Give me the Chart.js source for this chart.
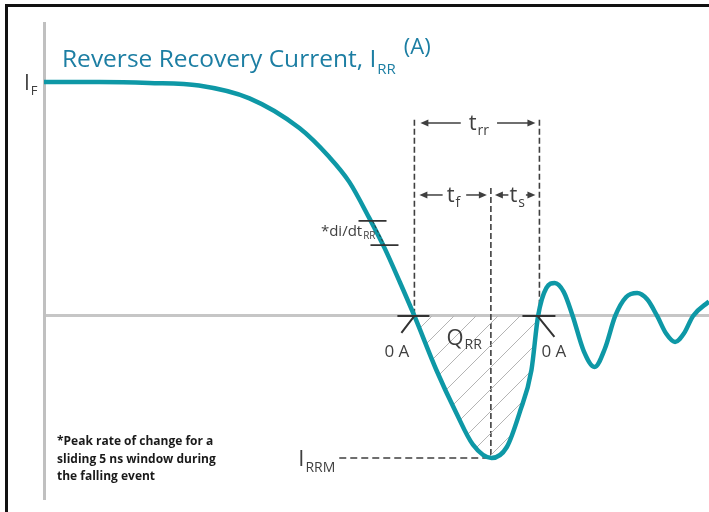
<!DOCTYPE html>
<html>
<head>
<meta charset="utf-8">
<script src="https://cdn.jsdelivr.net/npm/chart.js@4.4.1/dist/chart.umd.min.js"></script>
<style>
  html, body { margin: 0; padding: 0; background: #fff; }
  #wrap { position: relative; width: 709px; height: 512px; overflow: hidden; }
  #frame { position: absolute; left: 5px; top: 4px; right: 0; bottom: 0;
           border-top: 3px solid #111; border-left: 3px solid #111; }
  #chart { position: absolute; left: 0; top: 0; }
</style>
</head>
<body>
<div id="wrap">
  <div id="frame"></div>
  <canvas id="chart" width="709" height="512"></canvas>
</div>
<script>
// recovery waveform: time (ns) vs diode current (A)
const timeNs = [0, 8.3, 15.8, 23.3, 30.9, 38.4, 42.9, 45.9, 48.9, 51.2, 53.5, 55.7,
  59.0, 62.0, 64.5, 67.3, 69.6, 71.5, 73.3, 74.3,
  75.55, 76.8, 78.15, 79.5, 81.15, 82.8, 84.35, 85.9, 87.55, 89.2, 90.7, 92.2,
  93.55, 94.9, 96.25, 97.6, 100];
const currentA = [10, 10, 9.96, 9.85, 9.3, 8.03, 6.79, 5.73, 4.19, 2.91, 1.45, 0,
  -2.31, -4.15, -5.5, -6.07, -5.60, -4.15, -2.31, 0,
  1.2, 1.41, 1.03, 0, -1.49, -2.18, -1.39, 0, 0.81, 0.98, 0.71, 0,
  -0.75, -1.11, -0.74, 0, 0.62];

// event markers (same units as the data)
const trrStart = 55.7;
const trrEnd = 74.5;
const qrrEnd = 74.3;
const irrmTime = 67.2;
const irrmValue = -6.07;
const didtLevels = [4.06, 3.03];
const footnoteLines = ['*Peak rate of change for a', 'sliding 5 ns window during', 'the falling event'];

const CURVE = '#0e98a6';
const TITLE = '#1c7ea3';
const INK = '#3f3f3f';
const FONT = '"Open Sans", Lato, sans-serif';

// diagonal hatch used for the Q_RR area
function hatchPattern() {
  const c = document.createElement('canvas');
  c.width = 22; c.height = 22;
  const g = c.getContext('2d');
  g.strokeStyle = '#b4b4b4';
  g.lineWidth = 1;
  g.beginPath();
  for (let k = -1; k <= 1; k++) {
    g.moveTo(k * 22, 22);
    g.lineTo(k * 22 + 22, 0);
  }
  g.stroke();
  return g.createPattern(c, 'repeat');
}

const points = timeNs.map((t, i) => ({ x: t, y: currentA[i] }));

function text(ctx, s, x, y, size, color, opts = {}) {
  ctx.font = (opts.bold ? 'bold ' : '') + size + 'px ' + FONT;
  ctx.fillStyle = color;
  ctx.textAlign = opts.align || 'left';
  ctx.textBaseline = 'alphabetic';
  ctx.fillText(s, x, y);
  return ctx.measureText(s).width;
}

// main letter + subscript, returns total width
function subText(ctx, main, sub, x, y, size, subSize, color, drop) {
  const w1 = text(ctx, main, x, y, size, color);
  const w2 = text(ctx, sub, x + w1 + 1, y + drop, subSize, color);
  return w1 + 1 + w2;
}

function subWidth(ctx, main, sub, size, subSize) {
  ctx.font = size + 'px ' + FONT;
  const w1 = ctx.measureText(main).width;
  ctx.font = subSize + 'px ' + FONT;
  return w1 + 1 + ctx.measureText(sub).width;
}

function arrow(ctx, x1, y, x2) {
  const d = Math.sign(x2 - x1);
  ctx.beginPath();
  ctx.moveTo(x1, y);
  ctx.lineTo(x2 - d * 4, y);
  ctx.stroke();
  ctx.beginPath();
  ctx.moveTo(x2, y);
  ctx.lineTo(x2 - d * 8, y - 3.5);
  ctx.lineTo(x2 - d * 8, y + 3.5);
  ctx.closePath();
  ctx.fill();
}

function dashed(ctx, x1, y1, x2, y2, dash) {
  ctx.save();
  ctx.setLineDash(dash);
  ctx.beginPath();
  ctx.moveTo(x1, y1);
  ctx.lineTo(x2, y2);
  ctx.stroke();
  ctx.restore();
}

// keep the hatched fill between the two zero crossings
const clipQrr = {
  id: 'clipQrr',
  beforeDatasetsDraw(chart) {
    const x = chart.scales.x;
    const a = chart.chartArea;
    const left = x.getPixelForValue(trrStart);
    chart.ctx.save();
    chart.ctx.beginPath();
    chart.ctx.rect(left, a.top, x.getPixelForValue(qrrEnd) - left, a.bottom - a.top);
    chart.ctx.clip();
  },
  afterDatasetDraw(chart, args) {
    if (args.index === 1) chart.ctx.restore();
  }
};

const annotations = {
  id: 'annotations',
  beforeDatasetsDraw(chart) {
    const ctx = chart.ctx;
    const px = v => chart.scales.x.getPixelForValue(v);
    const py = v => chart.scales.y.getPixelForValue(v);
    const x0 = px(trrStart), x1 = px(trrEnd), xm = px(irrmTime);
    const zero = py(0);

    ctx.save();
    ctx.strokeStyle = INK;
    ctx.fillStyle = INK;
    ctx.lineWidth = 1.6;
    // event boundaries
    dashed(ctx, x0, py(8.38), x0, zero, [6, 3]);
    dashed(ctx, x1, py(8.38), x1, zero, [6, 3]);
    dashed(ctx, xm, py(5.47), xm, py(irrmValue), [6, 3]);
    dashed(ctx, px(44.4), py(irrmValue), xm, py(irrmValue), [7, 4]);
    ctx.restore();
  },
  afterDatasetsDraw(chart) {
    const ctx = chart.ctx;
    const px = v => chart.scales.x.getPixelForValue(v);
    const py = v => chart.scales.y.getPixelForValue(v);
    const x0 = px(trrStart), x1 = px(trrEnd), xm = px(irrmTime);
    const zero = py(0);

    ctx.save();
    ctx.strokeStyle = INK;
    ctx.fillStyle = INK;
    ctx.lineWidth = 1.5;

    // t_rr span
    const yRow1 = py(8.25);
    const wrr = subWidth(ctx, 't', 'rr', 22, 14);
    const c1 = (x0 + x1) / 2 + 2;
    arrow(ctx, c1 - wrr / 2 - 8, yRow1, x0 + 6);
    arrow(ctx, c1 + wrr / 2 + 8, yRow1, x1 - 4);
    subText(ctx, 't', 'rr', c1 - wrr / 2, yRow1 + 7, 22, 14, INK, 5);

    // t_f and t_s spans
    const yRow2 = py(5.17);
    ctx.strokeStyle = INK; ctx.fillStyle = INK; ctx.lineWidth = 1.5;
    const wf = subWidth(ctx, 't', 'f', 22, 14);
    const cf = x0 + 39;
    arrow(ctx, cf - wf / 2 - 4, yRow2, x0 + 5);
    arrow(ctx, cf + wf / 2 + 6, yRow2, xm - 4);
    subText(ctx, 't', 'f', cf - wf / 2, yRow2 + 7, 22, 14, INK, 5);
    const ws = subWidth(ctx, 't', 's', 22, 14);
    const cs = (xm + x1) / 2 + 2;
    ctx.strokeStyle = INK; ctx.fillStyle = INK;
    arrow(ctx, cs - ws / 2 - 1, yRow2, xm + 4);
    arrow(ctx, cs + ws / 2 + 1, yRow2, x1 - 4);
    subText(ctx, 't', 's', cs - ws / 2, yRow2 + 7, 22, 14, INK, 5);

    // zero crossing ticks and labels
    ctx.strokeStyle = '#333';
    ctx.lineWidth = 2;
    ctx.beginPath();
    ctx.moveTo(x0 - 17, zero); ctx.lineTo(x0 + 15, zero);
    ctx.moveTo(x0, zero); ctx.lineTo(x0 - 13, zero + 17);
    ctx.moveTo(x1 - 17, zero); ctx.lineTo(x1 + 16, zero);
    ctx.moveTo(x1 - 2, zero); ctx.lineTo(x1 + 15, zero + 21);
    ctx.stroke();
    text(ctx, '0 A', x0 - 30, zero + 41, 17, INK);
    text(ctx, '0 A', x1 + 2, zero + 41, 17, INK);

    // di/dt window marks
    const dx = [px(49.4), px(51.2)];
    ctx.lineWidth = 1.8;
    ctx.beginPath();
    ctx.moveTo(dx[0] - 14, py(didtLevels[0])); ctx.lineTo(dx[0] + 14, py(didtLevels[0]));
    ctx.moveTo(dx[1] - 14, py(didtLevels[1])); ctx.lineTo(dx[1] + 14, py(didtLevels[1]));
    ctx.stroke();
    ctx.lineWidth = 1;
    dashed(ctx, dx[0], py(didtLevels[0]), dx[1], py(didtLevels[1]), [3, 2]);
    const wd = subWidth(ctx, '*di/dt', 'RR', 15, 10);
    subText(ctx, '*di/dt', 'RR', dx[0] + 3 - wd, py(3.4), 15, 10, INK, 3);

    // Q_RR
    subText(ctx, 'Q', 'RR', x0 + 32, zero + 29, 22, 14, INK, 4);

    // I_RRM
    const wi = subWidth(ctx, 'I', 'RRM', 22, 14);
    subText(ctx, 'I', 'RRM', px(44.4) - 4 - wi, py(irrmValue) + 8, 22, 14, INK, 6);

    // I_F
    subText(ctx, 'I', 'F', 24, py(10) + 8, 21, 13, INK, 5);

    // title
    let x = 62;
    x += text(ctx, 'Reverse Recovery Current, I', x, 67, 24.5, TITLE);
    x += 1 + text(ctx, 'RR', x + 1, 74, 15, TITLE);
    text(ctx, '(A)', x + 8, 54, 22, TITLE);

    // footnote
    footnoteLines.forEach((s, i) => text(ctx, s, 57, 445 + i * 17.5, 12, '#1a1a1a', { bold: true }));
    ctx.restore();
  }
};

new Chart(document.getElementById('chart'), {
  type: 'line',
  data: {
    datasets: [
      {
        data: points,
        borderColor: CURVE,
        borderWidth: 4.5,
        pointRadius: 0,
        cubicInterpolationMode: 'monotone',
        fill: false
      },
      {
        data: points,
        borderWidth: 0,
        borderColor: 'rgba(0,0,0,0)',
        backgroundColor: hatchPattern(),
        pointRadius: 0,
        cubicInterpolationMode: 'monotone',
        fill: 'origin'
      }
    ]
  },
  options: {
    responsive: false,
    animation: false,
    devicePixelRatio: 1,
    layout: { padding: { left: 44, top: 23, right: 0, bottom: 14 } },
    plugins: { legend: { display: false }, tooltip: { enabled: false } },
    scales: {
      x: { type: 'linear', min: 0, max: 100, display: false },
      y: {
        min: -7.78,
        max: 12.52,
        ticks: { display: false },
        grid: {
          drawTicks: false,
          lineWidth: 3,
          color: c => (c.tick && c.tick.value === 0 ? '#c6c6c6' : 'rgba(0,0,0,0)')
        },
        border: { display: true, color: '#c0c0c0', width: 3 }
      }
    }
  },
  plugins: [annotations, clipQrr]
});
</script>
</body>
</html>
